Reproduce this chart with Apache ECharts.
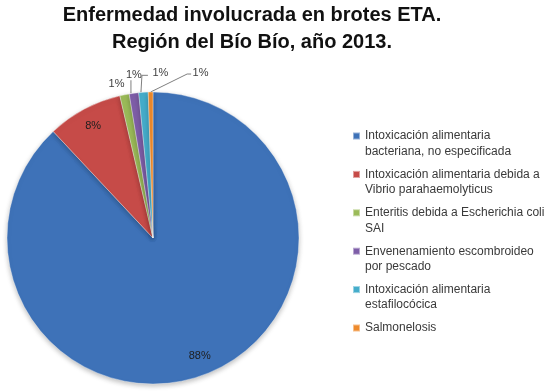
<!DOCTYPE html>
<html>
<head>
<meta charset="utf-8">
<script src="https://cdn.jsdelivr.net/npm/echarts@6/dist/echarts.min.js"></script>
<style>
  html, body { margin: 0; padding: 0; background: #ffffff; }
  #chart { width: 546px; height: 392px; }
</style>
</head>
<body>
<div id="chart"></div>
<script>
// ---- Data ----
const titleLines = ['Enfermedad involucrada en brotes ETA.', 'Región del Bío Bío, año 2013.'];
const categories = [
  'Intoxicación alimentaria\nbacteriana, no especificada',
  'Intoxicación alimentaria debida a\nVibrio parahaemolyticus',
  'Enteritis debida a Escherichia coli\nSAI',
  'Envenenamiento escombroideo\npor pescado',
  'Intoxicación alimentaria\nestafilocócica',
  'Salmonelosis'
];
const outbreaks = [169, 16, 2, 2, 2, 1];

// ---- Styles / layout ----
const colors = ['#3E72B8', '#C64B48', '#9BBB59', '#7E5EA8', '#45ADCB', '#EE8A2C'];
const CX = 153, CY = 238, R = 146;
const LEG_LINE = 15.5;

const total = outbreaks.reduce((a, b) => a + b, 0);
function sliceGeom(i) {
  let cum = 0;
  for (let k = 0; k < i; k++) cum += outbreaks[k];
  const ang = (cum + outbreaks[i] / 2) / total * Math.PI * 2;
  const dx = Math.sin(ang), dy = -Math.cos(ang);
  return { dx, dy, ex: CX + R * dx, ey: CY + R * dy };
}

const pieData = categories.map((name, i) => {
  const inside = outbreaks[i] / total > 0.05;
  return {
    name: name,
    value: outbreaks[i],
    itemStyle: { color: colors[i] },
    label: { position: inside ? 'inside' : 'outside', color: inside ? '#1e1e1e' : '#404040' },
    labelLine: { show: !inside && i !== 2 }
  };
});

const chart = echarts.init(document.getElementById('chart'), null, { renderer: 'canvas' });
chart.setOption({
  animation: false,
  backgroundColor: '#ffffff',
  title: {
    text: titleLines.join('\n'),
    left: 252,
    top: 2,
    padding: 0,
    textAlign: 'center',
    textStyle: {
      fontFamily: 'Liberation Sans',
      fontSize: 20,
      fontWeight: 'bold',
      lineHeight: 27,
      color: '#111111'
    }
  },
  legend: {
    orient: 'vertical',
    left: 352,
    top: 136 - 1.5 * LEG_LINE,
    padding: 0,
    itemWidth: 7,
    itemHeight: 7,
    itemGap: 38.4 - 3 * LEG_LINE,
    icon: 'rect',
    data: categories,
    formatter: function (name) {
      const out = [''].concat(name.split('\n'));
      while (out.length < 3) out.push('');
      return out.join('\n');
    },
    textStyle: {
      fontFamily: 'Liberation Sans',
      fontSize: 12,
      lineHeight: LEG_LINE,
      color: '#3a3a3a'
    }
  },
  series: [{
    type: 'pie',
    center: [CX, CY],
    radius: R,
    startAngle: 90,
    clockwise: true,
    avoidLabelOverlap: false,
    itemStyle: {
      borderColor: 'rgba(255,255,255,0.45)',
      borderWidth: 0.8,
      shadowBlur: 5,
      shadowOffsetY: 2,
      shadowColor: 'rgba(0,0,0,0.25)'
    },
    label: {
      show: true,
      fontFamily: 'Liberation Sans',
      fontSize: 11,
      formatter: p => Math.round(p.percent) + '%'
    },
    labelLine: {
      show: true,
      length: 10,
      length2: 5,
      lineStyle: { color: '#7f7f7f', width: 1 }
    },
    labelLayout: function (p) {
      const i = p.dataIndex;
      const g = sliceGeom(i);
      if (outbreaks[i] / total > 0.05) {
        return { x: CX + g.dx * R * 0.87, y: CY + g.dy * R * 0.87, align: 'center', verticalAlign: 'middle' };
      }
      if (i === 2) {
        return { x: g.ex - 8, y: g.ey - 11, align: 'center', verticalAlign: 'middle' };
      }
      if (i === 3) {
        return {
          x: g.ex, y: g.ey - 18, align: 'center', verticalAlign: 'middle',
          labelLinePoints: [[g.ex - 3, g.ey], [g.ex - 3, g.ey - 13]]
        };
      }
      if (i === 4) {
        return {
          x: g.ex + 9, y: g.ey - 19, align: 'left', verticalAlign: 'middle',
          labelLinePoints: [[g.ex - 2.5, g.ey], [g.ex - 1.5, g.ey - 17], [g.ex + 4.5, g.ey - 17]]
        };
      }
      return {
        x: g.ex + 42, y: g.ey - 19, align: 'left', verticalAlign: 'middle',
        labelLinePoints: [[g.ex, g.ey], [g.ex + 36.5, g.ey - 18], [g.ex + 40.5, g.ey - 18]]
      };
    },
    data: pieData
  }]
});
</script>
</body>
</html>
